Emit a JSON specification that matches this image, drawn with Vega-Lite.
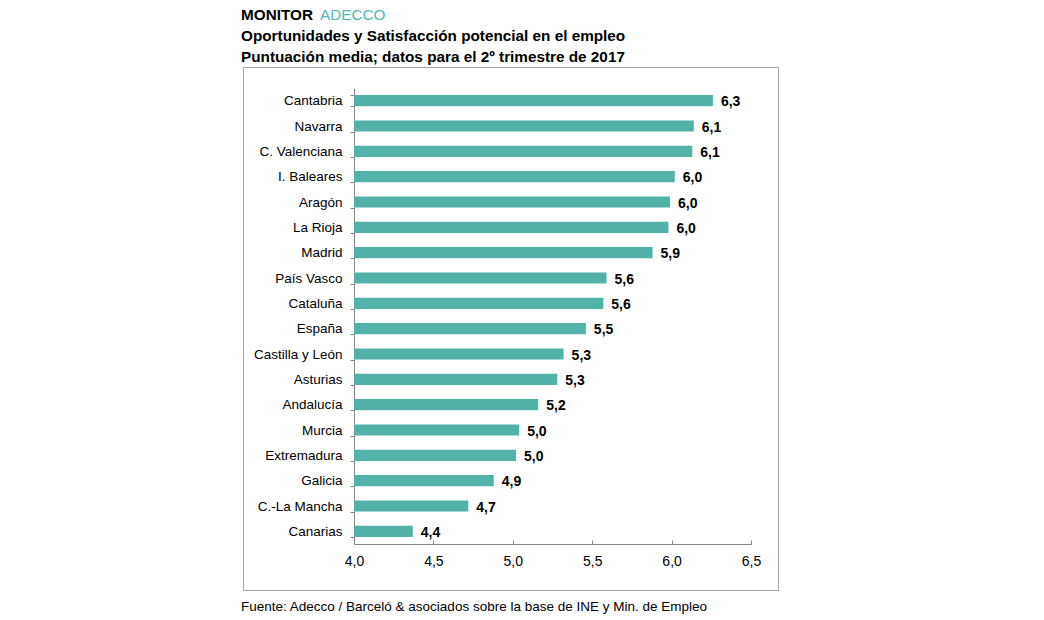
{
  "$schema": "https://vega.github.io/schema/vega-lite/v6.json",
  "width": 535,
  "height": 523,
  "autosize": {"type": "none"},
  "padding": {"left": 243, "top": 67, "right": 266, "bottom": 30},
  "background": "white",
  "config": {
    "locale": {"number": {"decimal": ",", "thousands": ".", "grouping": [3], "currency": ["", " €"]}},
    "view": {"stroke": "#a6a6a6", "strokeWidth": 1},
    "font": "Liberation Sans",
    "text": {"font": "Liberation Sans"}
  },
  "datasets": {
    "regions": [
      {"region": "Cantabria", "score": 6.26},
      {"region": "Navarra", "score": 6.14},
      {"region": "C. Valenciana", "score": 6.13},
      {"region": "I. Baleares", "score": 6.02},
      {"region": "Aragón", "score": 5.99},
      {"region": "La Rioja", "score": 5.98},
      {"region": "Madrid", "score": 5.88},
      {"region": "País Vasco", "score": 5.59},
      {"region": "Cataluña", "score": 5.57},
      {"region": "España", "score": 5.46},
      {"region": "Castilla y León", "score": 5.32},
      {"region": "Asturias", "score": 5.28},
      {"region": "Andalucía", "score": 5.16},
      {"region": "Murcia", "score": 5.04},
      {"region": "Extremadura", "score": 5.02},
      {"region": "Galicia", "score": 4.88},
      {"region": "C.-La Mancha", "score": 4.72},
      {"region": "Canarias", "score": 4.37}
    ]
  },
  "layer": [
    {
      "data": {"name": "regions"},
      "layer": [
        {
          "mark": {"type": "bar", "color": "#52b2a8"},
          "encoding": {
            "y": {
              "field": "region", "type": "nominal", "sort": null,
              "scale": {"range": [21, 477], "paddingInner": 0.56, "paddingOuter": 0.28},
              "axis": {
                "title": null, "offset": -111, "tickBand": "extent", "tickSize": 4,
                "labelPadding": 8, "domainColor": "#868686", "tickColor": "#868686",
                "labelFontSize": 13.5, "labelColor": "#000000", "labelFont": "Liberation Sans",
                "grid": false, "labelLimit": 200
              }
            },
            "x": {
              "field": "score", "type": "quantitative",
              "scale": {"domain": [4, 6.5], "range": [111, 508], "nice": false, "zero": false},
              "axis": {
                "title": null, "values": [4, 4.5, 5, 5.5, 6, 6.5], "format": ".1f",
                "grid": false, "offset": -46, "tickSize": -4, "labelPadding": 14,
                "labelFlush": false, "domainColor": "#868686", "tickColor": "#868686",
                "labelFontSize": 14, "labelColor": "#000000", "labelFont": "Liberation Sans"
              }
            },
            "x2": {"datum": 4}
          }
        },
        {
          "mark": {"type": "text", "align": "left", "baseline": "middle", "dx": 8, "dy": 1.5, "fontSize": 14, "fontWeight": "bold", "color": "#000000"},
          "encoding": {
            "y": {"field": "region", "type": "nominal", "sort": null},
            "x": {"field": "score", "type": "quantitative"},
            "text": {"field": "score", "type": "quantitative", "format": ".1f"}
          }
        }
      ]
    },
    {
      "data": {"values": [{}]},
      "layer": [
        {
          "mark": {"type": "text", "text": "MONITOR", "align": "left", "baseline": "alphabetic", "fontSize": 15.3, "fontWeight": "bold", "color": "#000000"},
          "encoding": {"x": {"datum": 3.2884}, "y": {"datum": 1.0899, "scale": {"domain": [0, 1]}, "axis": null}}
        },
        {
          "mark": {"type": "text", "text": "ADECCO", "align": "left", "baseline": "alphabetic", "fontSize": 15.3, "fontWeight": "normal", "color": "#52b8b0"},
          "encoding": {"x": {"datum": 3.786}, "y": {"datum": 1.0899, "scale": {"domain": [0, 1]}, "axis": null}}
        },
        {
          "mark": {"type": "text", "text": "Oportunidades y Satisfacción potencial en el empleo", "align": "left", "baseline": "alphabetic", "fontSize": 15.3, "fontWeight": "bold", "color": "#000000"},
          "encoding": {"x": {"datum": 3.2884}, "y": {"datum": 1.0497, "scale": {"domain": [0, 1]}, "axis": null}}
        },
        {
          "mark": {"type": "text", "text": "Puntuación media; datos para el 2º trimestre de 2017", "align": "left", "baseline": "alphabetic", "fontSize": 15.3, "fontWeight": "bold", "color": "#000000"},
          "encoding": {"x": {"datum": 3.2884}, "y": {"datum": 1.0096, "scale": {"domain": [0, 1]}, "axis": null}}
        },
        {
          "mark": {"type": "text", "text": "Fuente: Adecco / Barceló & asociados sobre la base de INE y Min. de Empleo", "align": "left", "baseline": "alphabetic", "fontSize": 13.5, "fontWeight": "normal", "color": "#000000"},
          "encoding": {"x": {"datum": 3.2884}, "y": {"datum": -0.0402, "scale": {"domain": [0, 1]}, "axis": null}}
        }
      ]
    }
  ],
  "resolve": {"scale": {"y": "independent"}}
}
